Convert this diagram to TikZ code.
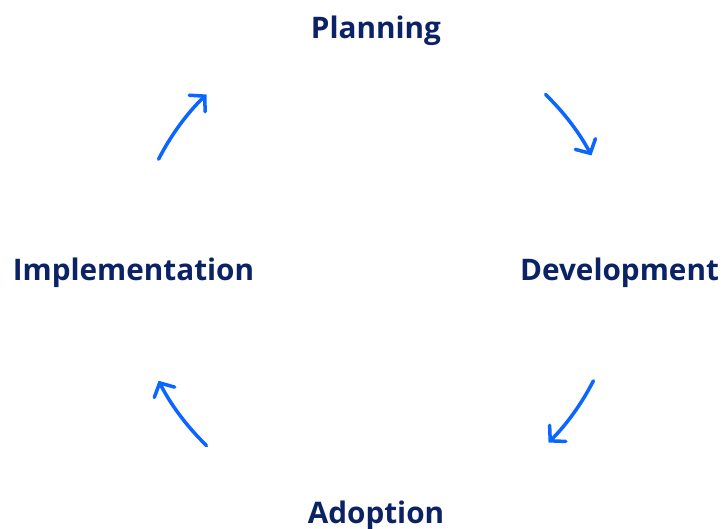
\documentclass[tikz,border=0pt]{standalone}
\usepackage{fontspec}
\setmainfont{Open Sans}
\usetikzlibrary{arrows.meta}
\definecolor{stagenavy}{HTML}{0B2265}
\definecolor{cycblue}{HTML}{0A66FF}
\tikzset{
        stagenode/.style = {align=center, inner sep=0pt, text centered,
            text=stagenavy, font=\bfseries\fontsize{16.9}{20}\selectfont},
        cyc_a/.style = {draw=cycblue, line width=2pt, line cap=round,
            -{Straight Barb[length=6pt,width=13pt,line cap=round]}}
    }

\begin{document}
\begin{tikzpicture}
            \useasboundingbox (-7.52,-5.18) rectangle (6.98,5.40);
            % stages round the cycle
            \node [stagenode] (plan) at (0,4.79) {Planning};
            \node [stagenode] (dev) at (4.87,-0.06) {Development};
            \node [stagenode] (adopt) at (0,-4.92) {Adoption};
            \node [stagenode] (impl) at (-4.85,-0.06) {Implementation};
            % arrow ends on the circle
            \coordinate (a1) at (153:4.88);
            \coordinate (a2) at (46:4.88);
            \coordinate (a3) at (-27:4.88);
            \coordinate (a4) at (226:4.88);
            \draw [cyc_a] (a1) arc [start angle=153, end angle=134, radius=4.88cm];
            \draw [cyc_a] (a2) arc [start angle=46, end angle=28, radius=4.88cm];
            \draw [cyc_a] (a3) arc [start angle=-27, end angle=-45, radius=4.88cm];
            \draw [cyc_a] (a4) arc [start angle=226, end angle=207, radius=4.88cm];
        \end{tikzpicture}
\end{document}
